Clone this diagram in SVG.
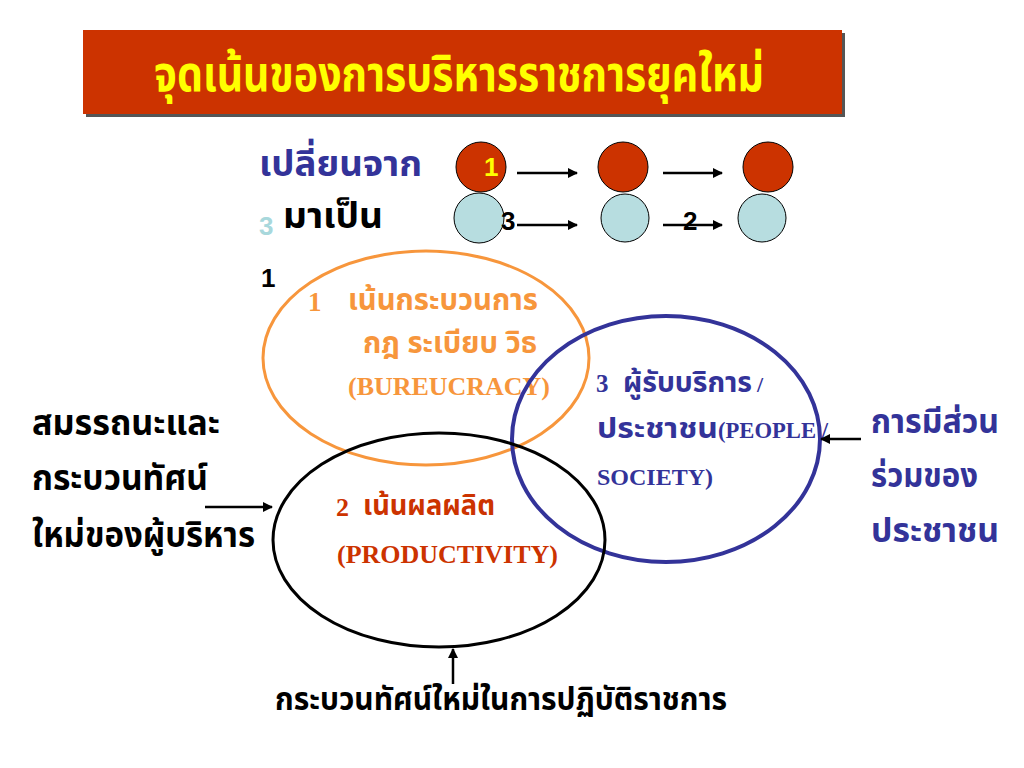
<svg xmlns="http://www.w3.org/2000/svg" width="1024" height="768" viewBox="0 0 1024 768">
<defs>
<style>
.th{font-family:"Noto Sans Thai","Noto Sans","DejaVu Sans",sans-serif;font-weight:bold}
.ser{font-family:"Liberation Serif","Times New Roman",serif;font-weight:bold}
.ar{font-family:"Liberation Sans",Arial,sans-serif;font-weight:bold}
.ln{stroke:#000;stroke-width:2.5;fill:none}
</style>
<marker id="ah" viewBox="0 0 10 10" refX="9" refY="5" markerWidth="4" markerHeight="4" orient="auto-start-reverse" markerUnits="strokeWidth">
<path d="M0,0 L10,5 L0,10 z" fill="#000"/>
</marker>
</defs>
<rect width="1024" height="768" fill="#fff"/>
<g id="title">
<rect x="86" y="33" width="759" height="84" fill="#555"/>
<rect x="83" y="30" width="759" height="84" fill="#CC3300"/>
<text x="154" y="91" class="th" font-size="50" fill="#FFFF00" textLength="610" lengthAdjust="spacingAndGlyphs">จุดเน้นของการบริหารราชการยุคใหม่</text>
</g>
<g id="legend-labels">
<text x="259" y="176" class="th" font-size="36" fill="#333399" textLength="163" lengthAdjust="spacingAndGlyphs">เปลี่ยนจาก</text>
<text x="283" y="228" class="th" font-size="36" fill="#000" textLength="100" lengthAdjust="spacingAndGlyphs">มาเป็น</text>
<text x="259" y="235" class="ar" font-size="26" fill="#A8D8DC">3</text>
<text x="261" y="287" class="ar" font-size="26" fill="#000">1</text>
</g>
<g id="circles" stroke="#000" stroke-width="1">
<circle cx="481" cy="167" r="25" fill="#CC3300"/>
<circle cx="623" cy="167" r="25" fill="#CC3300"/>
<circle cx="768" cy="167" r="25" fill="#CC3300"/>
<circle cx="479" cy="218" r="25" fill="#B7DDE0"/>
<circle cx="625" cy="218" r="24" fill="#B7DDE0"/>
<circle cx="762" cy="218" r="24" fill="#B7DDE0"/>
</g>
<g id="nums" class="ar" font-size="26">
<text x="484" y="176" fill="#FFFF00">1</text>
<text x="501" y="230" fill="#000">3</text>
<text x="683" y="230" fill="#000">2</text>
</g>
<g id="bureaucracy">
<ellipse cx="426" cy="358" rx="163" ry="107" fill="none" stroke="#F7963C" stroke-width="3"/>
<text x="308" y="311" class="ser" font-size="27" fill="#F7963C">1</text>
<text x="348" y="310" class="th" font-size="30" fill="#F7963C" textLength="190" lengthAdjust="spacingAndGlyphs">เน้นกระบวนการ</text>
<text x="363" y="353" class="th" font-size="30" fill="#F7963C" textLength="174" lengthAdjust="spacingAndGlyphs">กฎ ระเบียบ วิธ</text>
<text x="348" y="395" class="ser" font-size="25" fill="#F7963C" textLength="202" lengthAdjust="spacingAndGlyphs">(BUREUCRACY)</text>
</g>
<g id="people">
<ellipse cx="666" cy="439" rx="154" ry="123" fill="none" stroke="#333399" stroke-width="4"/>
<text x="596" y="392" class="ser" font-size="25" fill="#333399">3</text>
<text x="623" y="392" class="th" font-size="28" fill="#333399" textLength="129" lengthAdjust="spacingAndGlyphs">ผู้รับบริการ</text>
<text x="757" y="392" class="ser" font-size="22" fill="#333399">/</text>
<text x="597" y="438" class="th" font-size="28" fill="#333399" textLength="121" lengthAdjust="spacingAndGlyphs">ประชาชน</text>
<text x="718" y="438" class="ser" font-size="23" fill="#333399" textLength="110" lengthAdjust="spacingAndGlyphs">(PEOPLE /</text>
<text x="597" y="485" class="ser" font-size="24" fill="#333399" textLength="116" lengthAdjust="spacingAndGlyphs">SOCIETY)</text>
</g>
<g id="productivity">
<ellipse cx="439" cy="540" rx="166" ry="107" fill="none" stroke="#000" stroke-width="3"/>
<text x="336" y="516" class="ser" font-size="26" fill="#CC3300">2</text>
<text x="363" y="515" class="th" font-size="28" fill="#CC3300" textLength="132" lengthAdjust="spacingAndGlyphs">เน้นผลผลิต</text>
<text x="337" y="563" class="ser" font-size="26" fill="#CC3300" textLength="221" lengthAdjust="spacingAndGlyphs">(PRODUCTIVITY)</text>
</g>
<g id="left-label" class="th" font-size="35" fill="#000">
<text x="32" y="435" textLength="188" lengthAdjust="spacingAndGlyphs">สมรรถนะและ</text>
<text x="32" y="490" textLength="176" lengthAdjust="spacingAndGlyphs">กระบวนทัศน์</text>
<text x="32" y="547" textLength="223" lengthAdjust="spacingAndGlyphs">ใหม่ของผู้บริหาร</text>
</g>
<g id="right-label" class="th" font-size="34" fill="#333399">
<text x="871" y="433" textLength="128" lengthAdjust="spacingAndGlyphs">การมีส่วน</text>
<text x="871" y="487" textLength="107" lengthAdjust="spacingAndGlyphs">ร่วมของ</text>
<text x="871" y="542" textLength="128" lengthAdjust="spacingAndGlyphs">ประชาชน</text>
</g>
<g id="bottom-label">
<text x="275" y="710" class="th" font-size="31" fill="#000" textLength="452" lengthAdjust="spacingAndGlyphs">กระบวนทัศน์ใหม่ในการปฏิบัติราชการ</text>
</g>
<g id="connectors" class="ln" marker-end="url(#ah)">
<line x1="517" y1="173" x2="577" y2="173"/>
<line x1="663" y1="173" x2="722" y2="173"/>
<line x1="517" y1="225" x2="577" y2="225"/>
<line x1="663" y1="225" x2="722" y2="225"/>
<line x1="205" y1="507" x2="272" y2="507"/>
<line x1="861" y1="439" x2="821" y2="439"/>
<line x1="453" y1="684" x2="453" y2="649"/>
</g>
</svg>
